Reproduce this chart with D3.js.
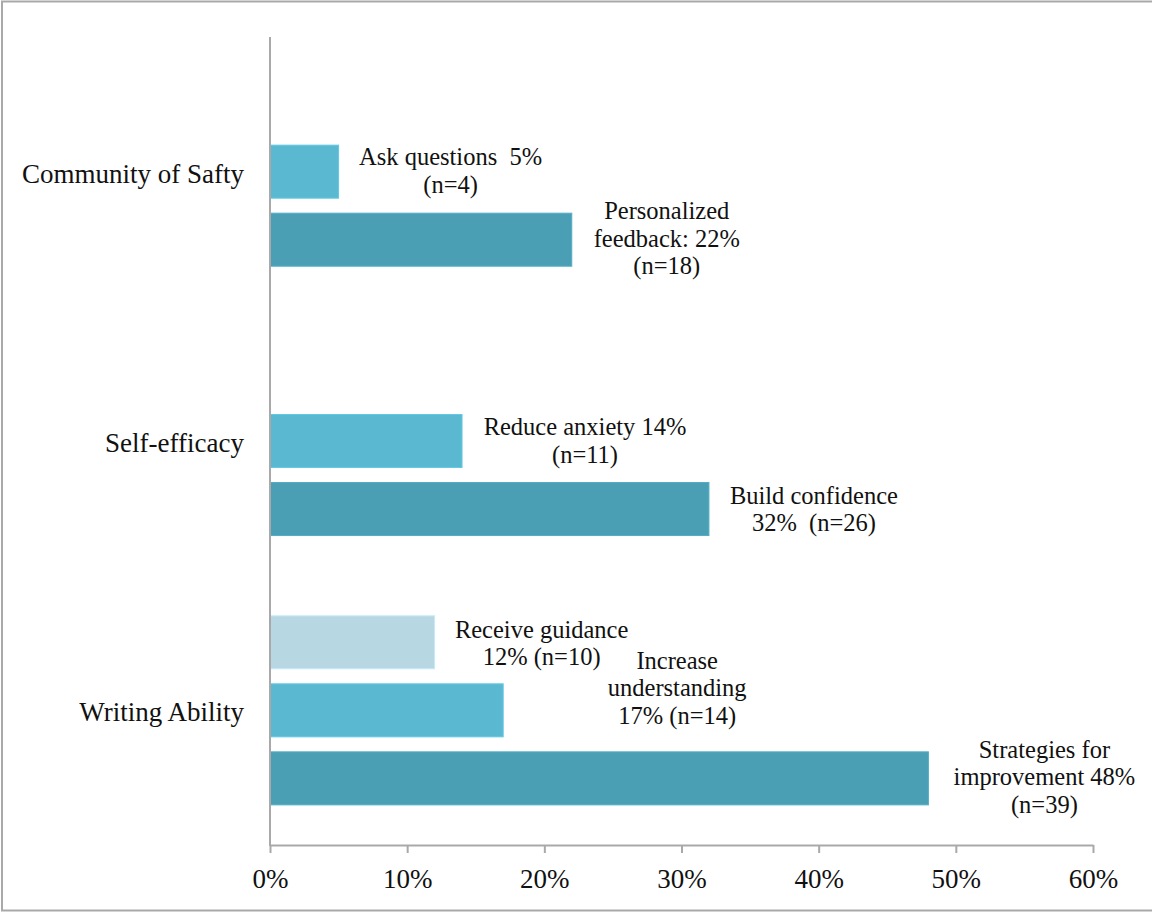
<!DOCTYPE html>
<html>
<head>
<meta charset="utf-8">
<script src="https://cdn.jsdelivr.net/npm/d3@7"></script>
<style>
  body { margin: 0; background: #fff; }
  text { font-family: "Liberation Serif", "Times New Roman", serif; fill: #111; }
</style>
</head>
<body>
<svg id="chart" width="1152" height="913"></svg>
<script>
// Reasons grouped by theme, share of responses (%)
const categories = ["Community of Safty", "Self-efficacy", "Writing Ability"];
const topValues    = [null, null, 12];   // pale series
const middleValues = [5, 14, 17];        // light series
const bottomValues = [22, 32, 48];       // dark series

const topLabels    = [null, null, ["Receive guidance", "12% (n=10)"]];
const middleLabels = [["Ask questions  5%", "(n=4)"],
                      ["Reduce anxiety 14%", "(n=11)"],
                      ["Increase", "understanding", "17% (n=14)"]];
const bottomLabels = [["Personalized", "feedback: 22%", "(n=18)"],
                      ["Build confidence", "32%  (n=26)"],
                      ["Strategies for", "improvement 48%", "(n=39)"]];

const tickValues = [0, 10, 20, 30, 40, 50, 60];

// label placement: [dx from bar end to text centre, dy from bar top to first baseline]
const labelOffsets = [
  [null, null, [107, 22]],
  [[112, 20], [123, 21], [174, -15]],
  [[95, 6], [105, 21], [116, 6]]
];
const colors = ["#b7d8e3", "#5bb8d1", "#4a9fb4"];

const svg = d3.select("#chart");
const plot = { left: 270, right: 1093, top: 37, bottom: 845 };

// outer frame
svg.append("rect")
  .attr("x", 2).attr("y", 1.5).attr("width", 1170).attr("height", 909)
  .attr("fill", "none").attr("stroke", "#a9a9a9").attr("stroke-width", 2);

const x = d3.scaleLinear().domain([0, 60]).range([plot.left, plot.right]);
const y = d3.scaleBand().domain(categories).range([plot.top, plot.bottom]);
const inner = d3.scaleBand().domain([0, 1, 2]).range([0, y.bandwidth()])
  .paddingInner(15 / 68).paddingOuter(0.59);

const series = [topValues, middleValues, bottomValues];
const seriesLabels = [topLabels, middleLabels, bottomLabels];

const rows = [];
series.forEach((vals, s) => {
  vals.forEach((v, i) => {
    if (v == null) return;
    rows.push({ s, cat: categories[i], value: v, lines: seriesLabels[s][i], off: labelOffsets[s][i] });
  });
});

// bars
svg.append("g").selectAll("rect").data(rows).join("rect")
  .attr("x", x(0))
  .attr("y", d => y(d.cat) + inner(d.s))
  .attr("width", d => x(d.value) - x(0))
  .attr("height", inner.bandwidth())
  .attr("fill", d => colors[d.s])
  .attr("stroke", d => d3.color(colors[d.s]).brighter(0.25))
  .attr("stroke-width", 1);

// x axis
const xAxis = svg.append("g")
  .attr("transform", `translate(0,${plot.bottom})`)
  .call(d3.axisBottom(x).tickValues(tickValues).tickFormat(d => d + "%")
    .tickSize(8).tickSizeOuter(0));
xAxis.select(".domain").attr("stroke", "#a9a9a9").attr("stroke-width", 2);
xAxis.selectAll(".tick line").attr("stroke", "#a9a9a9").attr("stroke-width", 2);
xAxis.selectAll(".tick text")
  .attr("y", 43).attr("dy", 0)
  .style("font-family", '"Liberation Serif", serif')
  .style("font-size", "27px").attr("fill", "#111");

// y axis line
svg.append("line")
  .attr("x1", x(0)).attr("x2", x(0))
  .attr("y1", plot.top).attr("y2", plot.bottom + 1)
  .attr("stroke", "#a9a9a9").attr("stroke-width", 2);

// category labels
svg.append("g").selectAll("text").data(categories).join("text")
  .attr("x", 244)
  .attr("y", d => y(d) + y.bandwidth() / 2 + 11)
  .attr("text-anchor", "end")
  .style("font-size", "27px")
  .text(d => d);

// data labels
const lineH = 27.5;
const lbl = svg.append("g").selectAll("text").data(rows).join("text")
  .attr("text-anchor", "middle")
  .attr("xml:space", "preserve")
  .style("white-space", "pre")
  .style("font-size", "24.5px")
  .attr("transform", d => `translate(${x(d.value) + d.off[0]},${y(d.cat) + inner(d.s) + d.off[1]})`);
lbl.selectAll("tspan").data(d => d.lines).join("tspan")
  .attr("x", 0)
  .attr("y", (t, j) => j * lineH)
  .text(t => t);
</script>
</body>
</html>
